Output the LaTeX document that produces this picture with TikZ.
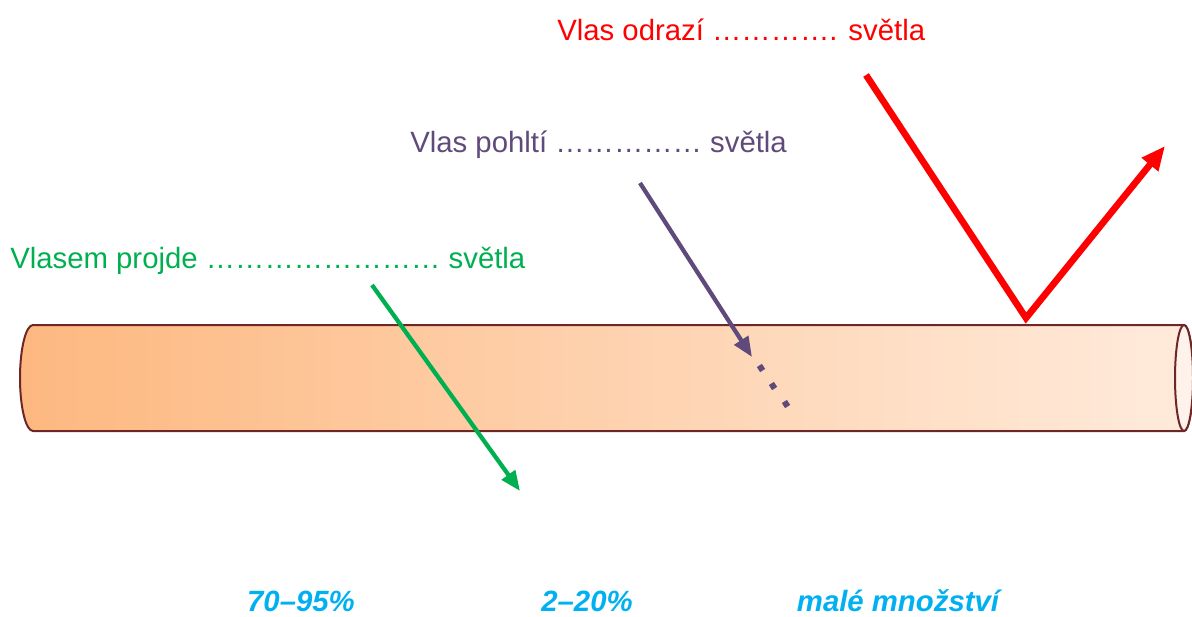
\documentclass[tikz,border=0pt]{standalone}
\usepackage{fontspec}
\setmainfont{Liberation Sans}
\usetikzlibrary{arrows.meta}
\definecolor{hairL}{RGB}{253,184,128}
\definecolor{hairR}{RGB}{255,235,220}
\definecolor{hairEnd}{RGB}{255,242,234}
\definecolor{hairEdge}{RGB}{110,38,38}
\definecolor{tgreen}{RGB}{0,176,80}
\definecolor{tpurple}{RGB}{96,74,123}
\definecolor{tred}{RGB}{255,0,0}
\definecolor{tblue}{RGB}{0,176,240}
\begin{document}
\begin{tikzpicture}[x=0.75pt,y=-0.75pt,
  lbl/.style={inner sep=0pt,anchor=west,font=\fontsize{22}{26}\selectfont},
  val/.style={inner sep=0pt,font=\fontsize{22}{26}\selectfont\bfseries\itshape,text=tblue},
  ray/.style={line width=3.2pt,-{Triangle[length=15pt,width=12pt]}}]
\useasboundingbox (0,0) rectangle (1192,617);
% hair
\path[left color=hairL,right color=hairR,draw=hairEdge,line width=1.5pt]
  (33,325) -- (1184,325) arc[start angle=-90,end angle=90,x radius=9,y radius=53]
  -- (33,431) arc[start angle=90,end angle=270,x radius=13,y radius=53] -- cycle;
\draw[fill=hairEnd,draw=hairEdge,line width=1.5pt] (1184,378) ellipse[x radius=9,y radius=53];
% labels
\node[lbl,text=tred] (odr) at (557,30) {Vlas odrazí …………. světla};
\node[lbl,text=tpurple] (poh) at (410,145) {Vlas pohltí …………… světla};
\node[lbl,text=tgreen] (pro) at (10,261) {Vlasem projde …………………… světla};
\node[val] (v1) at (301,601) {70–95\%};
\node[val] (v2) at (587,601) {2–20\%};
\node[val] (v3) at (898,601) {malé množství};
% rays
\coordinate (g1) at (372,285); \coordinate (g2) at (520,491);
\draw[ray,draw=tgreen,fill=tgreen] (g1) -- (g2);
\coordinate (p1) at (640,183); \coordinate (p2) at (752,357);
\draw[ray,draw=tpurple,fill=tpurple] (p1) -- (p2);
\coordinate (d1) at (761,368); \coordinate (d2) at (773,386); \coordinate (d3) at (786,404);
\foreach \d in {d1,d2,d3} \fill[tpurple,rotate around={33:(\d)}] (\d) +(-3,-3) rectangle +(3,3);
\coordinate (r1) at (866,75); \coordinate (r2) at (1026,318); \coordinate (r3) at (1165,146);
\draw[line width=5pt,draw=tred,-{Triangle[length=18pt,width=15pt]},line join=miter] (r1) -- (r2) -- (r3);
\end{tikzpicture}
\end{document}
